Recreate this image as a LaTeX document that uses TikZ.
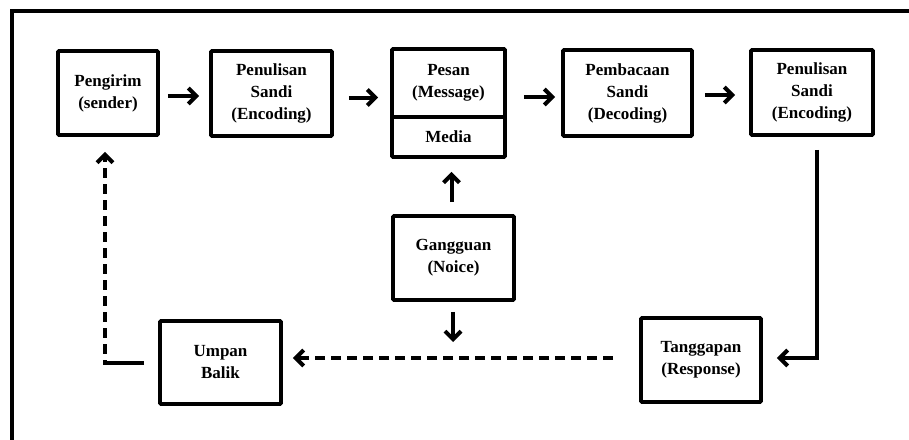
\documentclass[tikz,border=0pt]{standalone}
\usepackage{fontspec}
\setmainfont{Liberation Serif}
\usetikzlibrary{arrows.meta,calc}
\begin{document}
\begin{tikzpicture}[x=1pt,y=-1pt,
  box/.style={draw, line width=3.8pt, rounded corners=1pt, align=center,
    font=\fontsize{17}{22}\selectfont\bfseries, inner sep=0pt},
  arr/.style={line width=4pt, -{Straight Barb[length=8pt,width=16pt]}},
  darr/.style={arr, dash pattern=on 10pt off 6pt},
  fbarr/.style={arr, dash pattern=on 42pt off 6pt on 10pt off 6pt on 10pt off 6pt on 10pt off 6pt on 10pt off 6pt on 10pt off 6pt on 10pt off 6pt on 10pt off 6pt on 10pt off 6pt on 10pt off 6pt on 10pt off 6pt on 10pt off 6pt on 10pt off 6pt on 10pt off 6pt on 10pt off 6pt}]
\clip (0,0) rectangle (909,439);
\draw[line width=3.5pt] (12,470) -- (12,11) -- (940,11);

\node[box, minimum width=100pt, minimum height=84pt] (peng) at (108,93) {Pengirim\\(sender)};
\node[box, minimum width=121pt, minimum height=85pt] (pen1) at (271.5,93.5) {Penulisan\\Sandi\\(Encoding)};
\node[box, minimum width=113pt, minimum height=68pt] (pesan) at (448.5,83) {Pesan\\(Message)};
\node[box, minimum width=113pt, minimum height=40pt] (media) at (448.5,137) {Media};
\node[box, minimum width=129pt, minimum height=86pt] (pemb) at (627.5,93) {Pembacaan\\Sandi\\(Decoding)};
\node[box, minimum width=122pt, minimum height=85pt] (pen2) at (812,92.5) {Penulisan\\Sandi\\(Encoding)};
\node[box, minimum width=121pt, minimum height=84pt] (gang) at (453.5,258) {Gangguan\\(Noice)};
\node[box, minimum width=121pt, minimum height=83pt] (umpan) at (220.5,362.5) {Umpan\\Balik};
\node[box, minimum width=120pt, minimum height=84pt] (tang) at (701,360) {Tanggapan\\(Response)};
\coordinate (noiseend) at (453,342);

\draw[arr, shorten <=8pt, shorten >=10pt] ([yshift=-3pt]peng.east) -- ([yshift=-3pt]peng.east -| pen1.west);
\draw[arr, shorten <=15pt, shorten >=12pt] ([yshift=-4pt]pen1.east) -- ([yshift=-4pt]pen1.east -| pesan.west);
\draw[arr, shorten <=17pt, shorten >=6pt] ([yshift=-4pt]pemb.west -| pesan.east) -- ([yshift=-4pt]pemb.west);
\draw[arr, shorten <=11pt, shorten >=14pt] ([yshift=-2pt]pemb.east) -- ([yshift=-2pt]pemb.east -| pen2.west);
\draw[arr, shorten <=13pt, shorten >=14pt] ([xshift=5pt]pen2.south) |- ([yshift=2pt]tang.east);
\draw[arr, shorten <=12pt, shorten >=13pt] ([xshift=-2pt]gang.north) -- ([xshift=-2pt]gang.north |- media.south);
\draw[arr, shorten <=10pt] (gang.south -| noiseend) -- (noiseend);
\draw[darr, shorten <=26pt, shorten >=10pt] ([yshift=2pt]tang.west) -- ([yshift=2pt]tang.west -| umpan.east);
\draw[fbarr, shorten <=14pt, shorten >=15pt] (umpan.west) -| ([xshift=-3pt]peng.south);
\end{tikzpicture}
\end{document}
